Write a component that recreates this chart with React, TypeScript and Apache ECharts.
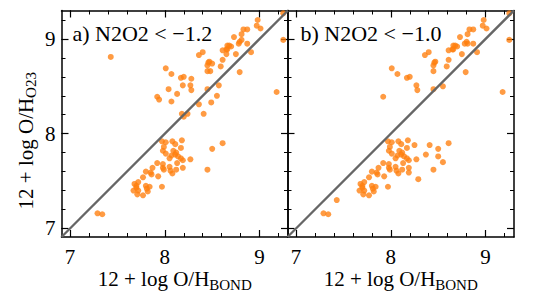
import React, { useEffect, useRef } from "react";
import * as echarts from "echarts";

const panelALabel = "a) N2O2 < −1.2";
const panelBLabel = "b) N2O2 < −1.0";
const xTitle = "12 + log O/H{s|BOND}";
const yTitle = "12 + log O/H{s|O23}";
const axisMin = 6.91;
const axisMax = 9.3;
const majorTicks = [7, 8, 9];
const minorTicks = [7.0, 7.2, 7.4, 7.6, 7.8, 8.0, 8.2, 8.4, 8.6, 8.8, 9.0, 9.2];
const oneToOne = [
  [6.91, 6.91],
  [9.3, 9.3],
];

const panelAUpper = [
  [7.43, 8.81],
  [8.01, 8.69], [8.07, 8.63], [8.04, 8.47], [7.92, 8.39], [7.94, 8.36], [8.07, 8.34], [8.13, 8.42],
  [8.17, 8.59], [8.2, 8.6], [8.28, 8.58], [8.19, 8.51], [8.27, 8.51], [8.28, 8.46],
  [8.18, 8.21], [8.24, 8.21], [8.2, 8.18], [8.41, 8.21],
  [8.36, 8.31], [8.49, 8.33], [8.55, 8.4], [8.57, 8.51], [8.45, 8.47],
  [8.36, 8.83], [8.4, 8.86],
  [8.46, 8.75], [8.45, 8.72], [8.47, 8.76], [8.5, 8.74], [8.48, 8.66], [8.45, 8.66], [8.59, 8.71], [8.61, 8.78], [8.79, 8.65],
  [8.61, 8.88], [8.65, 8.89], [8.66, 8.89], [8.65, 8.84], [8.68, 8.93], [8.66, 8.93], [8.7, 8.92], [8.75, 8.84], [8.91, 8.86],
  [8.73, 9.02], [8.81, 9.05], [8.79, 8.97], [8.81, 8.99], [8.78, 8.95], [8.87, 8.95],
  [8.83, 9.1], [8.87, 9.1], [8.98, 9.2], [8.97, 9.14], [9.01, 9.11],
  [9.25, 9.27], [9.25, 8.99], [9.18, 8.44],
];

const panelALower = [
  [7.29, 7.16], [7.34, 7.15],
  [7.97, 7.92], [8.01, 7.91], [7.99, 7.86], [8.08, 7.92], [8.18, 7.93],
  [7.98, 7.82], [8.01, 7.79], [8.09, 7.82], [8.11, 7.78], [8.07, 7.77], [8.11, 7.89], [8.17, 7.85], [8.12, 7.8], [8.14, 7.76],
  [8.05, 7.74], [8.17, 7.74], [8.19, 7.72], [8.27, 7.73], [8.13, 7.69],
  [7.92, 7.69], [7.98, 7.68], [7.98, 7.64], [7.99, 7.62], [8.05, 7.65], [8.06, 7.61], [8.08, 7.58], [8.19, 7.64], [8.12, 7.62],
  [7.87, 7.64], [7.8, 7.6], [7.85, 7.59], [7.86, 7.57], [7.93, 7.55], [7.77, 7.54],
  [7.68, 7.47], [7.72, 7.49], [7.7, 7.43], [7.67, 7.4], [7.72, 7.4], [7.7, 7.45],
  [7.8, 7.45], [7.84, 7.44], [7.81, 7.42], [7.82, 7.39], [7.71, 7.36], [7.77, 7.35], [7.97, 7.44],
  [8.5, 7.84], [8.61, 7.9], [8.45, 7.62],
];

const panelBUpper = [
  [8.01, 8.69], [8.07, 8.63], [7.92, 8.39],
  [8.17, 8.59], [8.2, 8.6], [8.27, 8.51], [8.28, 8.46], [8.45, 8.47], [8.55, 8.5],
  [8.36, 8.83], [8.4, 8.86],
  [8.46, 8.75], [8.45, 8.72], [8.47, 8.76], [8.45, 8.66], [8.59, 8.71], [8.61, 8.78], [8.79, 8.65],
  [8.61, 8.88], [8.65, 8.89], [8.66, 8.89], [8.68, 8.93], [8.66, 8.93], [8.7, 8.92], [8.75, 8.84], [8.91, 8.86],
  [8.73, 9.02], [8.81, 9.05], [8.8, 8.97], [8.81, 8.95], [8.78, 8.95], [8.87, 8.95],
  [8.83, 9.1], [8.87, 9.1], [8.98, 9.2], [8.97, 9.14], [9.01, 9.11],
  [9.25, 9.27], [9.25, 8.99], [9.18, 8.44],
];

const panelBLower = [
  [7.29, 7.16], [7.34, 7.15], [7.43, 7.3],
  [7.97, 7.92], [8.01, 7.91], [7.99, 7.86], [8.08, 7.92], [8.18, 7.93],
  [7.98, 7.82], [8.01, 7.79], [8.09, 7.82], [8.11, 7.78], [8.07, 7.77], [8.11, 7.89], [8.17, 7.85], [8.12, 7.8], [8.14, 7.76],
  [8.05, 7.74], [8.17, 7.74], [8.19, 7.72], [8.27, 7.73], [8.13, 7.69],
  [7.92, 7.69], [7.98, 7.68], [7.98, 7.64], [7.99, 7.62], [8.05, 7.65], [8.06, 7.61], [8.08, 7.58], [8.19, 7.64], [8.12, 7.62],
  [7.87, 7.64], [7.8, 7.6], [7.85, 7.59], [7.86, 7.57], [7.93, 7.55], [7.77, 7.54],
  [7.68, 7.47], [7.72, 7.49], [7.7, 7.43], [7.67, 7.4], [7.72, 7.4], [7.7, 7.45],
  [7.8, 7.45], [7.84, 7.44], [7.81, 7.42], [7.82, 7.39], [7.71, 7.36], [7.77, 7.35], [7.97, 7.44],
  [8.5, 7.84], [8.61, 7.9], [8.45, 7.62],
  [8.41, 7.88], [8.25, 7.88], [8.37, 7.78], [8.5, 7.76], [8.55, 7.7], [8.29, 7.52], [8.19, 7.59],
];

const FONT = "Liberation Serif";
const BLACK = "#000";

function titleStyle() {
  return {
    fontSize: 21,
    fontFamily: FONT,
    color: BLACK,
    lineHeight: 26,
    rich: {
      s: { fontSize: 15, fontFamily: FONT, color: BLACK, lineHeight: 15, verticalAlign: "bottom" },
    },
  };
}

function makeAxes(dim: "x" | "y", gridIndex: number, showLabels: boolean, name: string, nameGap: number, namePadding?: number[]) {
  const main = dim === "x" ? "bottom" : "left";
  const opp = dim === "x" ? "top" : "right";
  const base = {
    type: "value",
    gridIndex,
    min: axisMin,
    max: axisMax,
    splitLine: { show: false },
    scale: true,
  };
  const nameStyle: any = titleStyle();
  if (namePadding) nameStyle.padding = namePadding;
  return [
    {
      ...base,
      position: main,
      name,
      nameLocation: "middle",
      nameGap,
      nameMoveOverlap: false,
      nameTextStyle: nameStyle,
      axisLine: { show: true, onZero: false, lineStyle: { color: BLACK, width: 1.5 } },
      axisTick: { show: true, inside: true, length: 7, customValues: majorTicks, lineStyle: { color: BLACK, width: 1.2 } },
      axisLabel: showLabels
        ? { show: true, customValues: majorTicks, margin: dim === "x" ? 9 : 6, fontSize: 21, fontFamily: FONT, color: BLACK }
        : { show: false },
    },
    {
      ...base,
      position: main,
      axisLine: { show: false, onZero: false },
      axisTick: { show: true, inside: true, length: 4, customValues: minorTicks, lineStyle: { color: BLACK, width: 1 } },
      axisLabel: { show: false },
    },
    {
      ...base,
      position: opp,
      axisLine: { show: true, onZero: false, lineStyle: { color: BLACK, width: 1.5 } },
      axisTick: { show: true, inside: true, length: 7, customValues: majorTicks, lineStyle: { color: BLACK, width: 1.2 } },
      axisLabel: { show: false },
    },
    {
      ...base,
      position: opp,
      axisLine: { show: false, onZero: false },
      axisTick: { show: true, inside: true, length: 4, customValues: minorTicks, lineStyle: { color: BLACK, width: 1 } },
      axisLabel: { show: false },
    },
  ];
}

export default function App() {
  const ref = useRef<HTMLDivElement>(null);
  useEffect(() => {
    if (!ref.current) return;
    const chart = echarts.init(ref.current, undefined, { renderer: "svg" });
    const xAxes = [...makeAxes("x", 0, true, xTitle, 29), ...makeAxes("x", 1, true, xTitle, 29)];
    const yAxes = [...makeAxes("y", 0, true, yTitle, 23, [0, 34, 0, 0]), ...makeAxes("y", 1, false, "", 0)];
    const scatterStyle = { color: "#ff7f0e", opacity: 0.78 };
    const lineStyle = { color: "#666666", width: 2.3 };
    chart.setOption({
      animation: false,
      backgroundColor: "#fff",
      grid: [
        { left: 61.5, top: 10.5, width: 226.5, height: 226.5, outerBoundsMode: "none" },
        { left: 287.5, top: 10.5, width: 226.5, height: 226.5, outerBoundsMode: "none" },
      ],
      xAxis: xAxes,
      yAxis: yAxes,
      series: [
        { type: "scatter", xAxisIndex: 0, yAxisIndex: 0, data: panelAUpper, symbolSize: 6, itemStyle: scatterStyle, z: 2 },
        { type: "scatter", xAxisIndex: 0, yAxisIndex: 0, data: panelALower, symbolSize: 6, itemStyle: scatterStyle, z: 2 },
        { type: "line", xAxisIndex: 0, yAxisIndex: 0, data: oneToOne, symbol: "none", lineStyle, z: 3 },
        { type: "scatter", xAxisIndex: 4, yAxisIndex: 4, data: panelBUpper, symbolSize: 6, itemStyle: scatterStyle, z: 2 },
        { type: "scatter", xAxisIndex: 4, yAxisIndex: 4, data: panelBLower, symbolSize: 6, itemStyle: scatterStyle, z: 2 },
        { type: "line", xAxisIndex: 4, yAxisIndex: 4, data: oneToOne, symbol: "none", lineStyle, z: 3 },
      ],
      graphic: [
        { type: "text", x: 72.5, y: 33, style: { text: panelALabel, fontSize: 22, fontFamily: FONT, fill: BLACK, align: "left", verticalAlign: "middle" } },
        { type: "text", x: 300.5, y: 33, style: { text: panelBLabel, fontSize: 22, fontFamily: FONT, fill: BLACK, align: "left", verticalAlign: "middle" } },
      ],
    });
    return () => chart.dispose();
  }, []);
  return <div ref={ref} style={{ position: "fixed", left: 0, top: 0, width: 538, height: 294 }} />;
}
